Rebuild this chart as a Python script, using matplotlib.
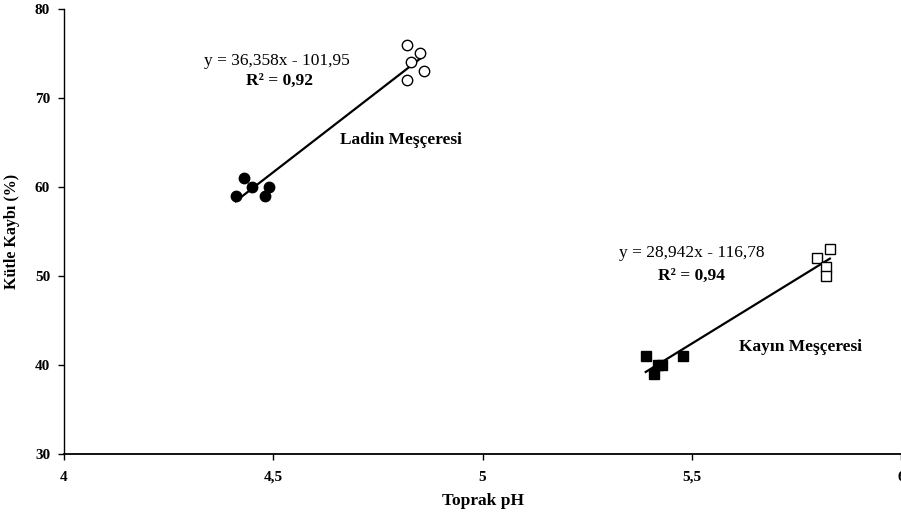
import matplotlib.pyplot as plt
import numpy as np

plt.rcParams['font.family'] = ['Liberation Serif', 'DejaVu Serif']

# Ladin Meşçeresi
ladin_x_dolu = [4.41, 4.43, 4.45, 4.48, 4.49]
ladin_y_dolu = [59, 61, 60, 59, 60]
ladin_x_bos = [4.82, 4.85, 4.83, 4.86, 4.82]
ladin_y_bos = [76, 75, 74, 73, 72]

# Kayın Meşçeresi
kayin_x_dolu = [5.39, 5.41, 5.42, 5.43, 5.48]
kayin_y_dolu = [41, 39, 40, 40, 41]
kayin_x_bos = [5.83, 5.80, 5.82, 5.82]
kayin_y_bos = [53, 52, 51, 50]

# trend çizgileri (eğim, kesişim)
ladin_fit = [36.358, -101.95]
kayin_fit = [28.942, -116.78]

fig = plt.figure(figsize=(9.01, 5.19), dpi=100)
ax = fig.add_axes([64/901, 65/519, 1 - 64/901, 445/519])

ax.plot(ladin_x_dolu, ladin_y_dolu, 'o', color='black', markersize=7.5, zorder=3)
ax.plot(ladin_x_bos, ladin_y_bos, 'o', mfc='white', mec='black', mew=1, markersize=7.5, zorder=3)
ax.plot(kayin_x_dolu, kayin_y_dolu, 's', color='black', markersize=7, zorder=3)
ax.plot(kayin_x_bos, kayin_y_bos, 's', mfc='white', mec='black', mew=1, markersize=7, zorder=3)

xl = np.array([min(ladin_x_dolu), max(ladin_x_bos)])
ax.plot(xl, ladin_fit[0] * xl + ladin_fit[1], color='black', lw=1.6, zorder=2)
xk = np.array([min(kayin_x_dolu), max(kayin_x_bos)])
ax.plot(xk, kayin_fit[0] * xk + kayin_fit[1], color='black', lw=1.6, zorder=2)

ax.text(4.508, 74.2, 'y = 36,358x - 101,95', ha='center', va='center', fontsize=12.5)
ax.text(4.514, 71.9, 'R² = 0,92', ha='center', va='center', fontsize=12.5, fontweight='bold')
ax.text(4.804, 65.3, 'Ladin Meşçeresi', ha='center', va='center', fontsize=12.5, fontweight='bold')
ax.text(5.500, 52.6, 'y = 28,942x - 116,78', ha='center', va='center', fontsize=12.5)
ax.text(5.500, 50.0, 'R² = 0,94', ha='center', va='center', fontsize=12.5, fontweight='bold')
ax.text(5.761, 42.0, 'Kayın Meşçeresi', ha='center', va='center', fontsize=12.5, fontweight='bold')

ax.set_xlim(4, 6)
ax.set_ylim(30, 80)
ax.set_xticks([4, 4.5, 5, 5.5, 6])
ax.set_xticklabels(['4', '4,5', '5', '5,5', '6'])
ax.set_yticks([30, 40, 50, 60, 70, 80])
for lbl in ax.get_xticklabels() + ax.get_yticklabels():
    lbl.set_fontweight('bold')
    lbl.set_fontsize(11)
ax.tick_params(direction='out', length=4, width=1, color='black', pad=8)
ax.tick_params(axis='y', pad=6)

ax.spines['top'].set_visible(False)
ax.spines['right'].set_visible(False)
ax.spines['left'].set_linewidth(1)
ax.spines['bottom'].set_linewidth(1.3)

ax.set_xlabel('Toprak pH', fontsize=12.5, fontweight='bold', labelpad=7)
ax.set_ylabel('Kütle Kaybı (%)', fontsize=11.5, fontweight='bold', labelpad=11)

fig.savefig('out.png', dpi=100)
